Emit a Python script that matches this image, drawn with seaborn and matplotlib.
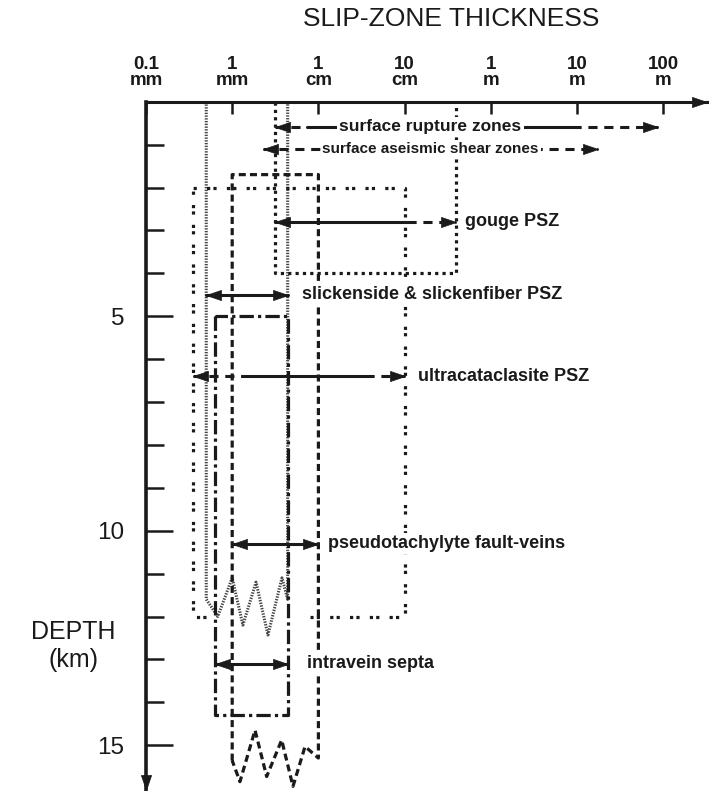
import numpy as np
import matplotlib
matplotlib.use("Agg")
import matplotlib.pyplot as plt
import seaborn as sns

# ---------------- data ----------------
tick_mm = [0.1, 1, 10, 100, 1000, 10000, 100000]
tick_labels = ["0.1\nmm", "1\nmm", "1\ncm", "10\ncm", "1\nm", "10\nm", "100\nm"]
depth_major = [5, 10, 15]
depth_minor = [1, 2, 3, 4, 6, 7, 8, 9, 11, 12, 13, 14]

zone_names = ["surface rupture zones", "surface aseismic shear zones", "gouge PSZ",
              "slickenside & slickenfiber PSZ", "ultracataclasite PSZ",
              "pseudotachylyte fault-veins", "intravein septa"]
zone_lo_mm = [3.1, 2.3, 3.1, 0.5, 0.35, 1.0, 0.63]
zone_hi_mm = [87000, 17500, 400, 4.4, 100, 10, 4.4]
zone_solid_lo_mm = [7.4, np.nan, 3.1, 0.5, 1.3, 1.0, 0.63]
zone_solid_hi_mm = [8750, np.nan, 107, 4.4, 35, 10, 4.4]
zone_depth_km = [0.58, 1.1, 2.8, 4.5, 6.4, 10.3, 13.1]
label_x_mm = [200, 200, 500, 6.5, 143, 12.9, 7.4]

gouge_box_mm = [3.1, 3.1, 400, 400]
gouge_box_km = [0, 4, 4, 0]
ultra_box_mm = [0.5, 0.35, 0.35, 100, 100, 8]
ultra_box_km = [12, 12, 2, 2, 12, 12]
pseudo_box_mm = [1, 1, 10, 10, 7.0, 5.07, 3.75, 2.51, 1.84, 1.23, 1]
pseudo_box_km = [15.36, 1.7, 1.7, 15.3, 15.03, 15.96, 14.88, 15.73, 14.65, 15.85, 15.36]
septa_box_mm = [0.63, 0.63, 4.4, 4.4, 0.63]
septa_box_km = [5, 14.3, 14.3, 5, 5]
slick_mm = [0.5, 0.5, 0.68, 1.0, 1.33, 1.89, 2.6, 3.78, 4.4, 4.4]
slick_km = [0, 11.6, 12.0, 11.1, 12.2, 11.2, 12.43, 11.1, 11.6, 0]

# ---------------- style ----------------
sns.set_theme(style="white")
plt.rcParams['font.family'] = ['Liberation Sans', 'DejaVu Sans']

W, H = 719, 791
fig = plt.figure(figsize=(W / 100, H / 100), dpi=100)
x0px, x1px = 146, 707
y0px, y1px = 101.7, 790
ax = fig.add_axes([x0px / W, 1 - y1px / H, (x1px - x0px) / W, (y1px - y0px) / H])
ax.set_xscale('log')
decade_px = 86.2
km_px = 42.9
xmin = tick_mm[0]
xmax = xmin * 10 ** ((x1px - x0px) / decade_px)
ymax = (y1px - y0px) / km_px

for s in ax.spines.values():
    s.set_visible(False)
ax.set_facecolor('none')

LW = 2.2


def outline(xs, ds, **kw):
    sns.lineplot(x=xs, y=ds, sort=False, estimator=None, ax=ax, legend=False, **kw)


# boxes
outline(slick_mm, slick_km, color='#444444', linewidth=2.2, linestyle=(0, (0.45, 0.45)))
outline(gouge_box_mm, gouge_box_km, color='k', linewidth=2.3, linestyle=(0, (1, 1.3)))
outline(ultra_box_mm, ultra_box_km, color='k', linewidth=2.3, linestyle=(0, (1, 1, 1, 3.2)))
outline(pseudo_box_mm, pseudo_box_km, color='k', linewidth=2.3, linestyle=(0, (2.2, 1.3)))
outline(septa_box_mm, septa_box_km, color='k', linewidth=2.3, linestyle=(0, (4.5, 1.3, 1, 1.3)))

RIGHT = [(0, 0), (-1, 0.34), (-1, -0.34), (0, 0)]
LEFT = [(0, 0), (1, 0.34), (1, -0.34), (0, 0)]
DOWN = [(0, 0), (-0.34, 1), (0.34, 1), (0, 0)]
HEAD = 21.6
DASH = (0, (3.0, 2.2))


def head(x, y, mk):
    ax.plot([x], [y], marker=mk, ms=HEAD, color='k', mew=0.5, ls='none', clip_on=False, zorder=6)


for i, name in enumerate(zone_names):
    lo, hi, d = zone_lo_mm[i], zone_hi_mm[i], zone_depth_km[i]
    slo, shi = zone_solid_lo_mm[i], zone_solid_hi_mm[i]
    if np.isnan(slo):
        ax.plot([lo, hi], [d, d], color='k', lw=LW, linestyle=DASH, zorder=5)
    else:
        ax.plot([slo, shi], [d, d], color='k', lw=LW, zorder=5)
        if lo < slo:
            ax.plot([lo, slo], [d, d], color='k', lw=LW, linestyle=DASH, zorder=5)
        if shi < hi:
            ax.plot([shi, hi], [d, d], color='k', lw=LW, linestyle=DASH, zorder=5)
    head(lo, d, LEFT)
    head(hi, d, RIGHT)
    box = dict(boxstyle='square,pad=0.12', fc='white', ec='none')
    if i < 2:
        ax.text(label_x_mm[i], d, name, ha='center', va='center', fontsize=12.5 if i == 0 else 11,
                fontweight='bold', color='k', zorder=7, bbox=box)
    else:
        ax.text(label_x_mm[i], d, name, ha='left', va='center', fontsize=13,
                fontweight='bold', color='k', zorder=7, bbox=box)

# axes arrows
ax.plot([xmin, xmax], [0, 0], color='k', lw=LW, clip_on=False, solid_capstyle='projecting', zorder=8)
ax.plot([xmin, xmin], [0, ymax], color='k', lw=2.6, clip_on=False, solid_capstyle='projecting', zorder=8)
head(xmax, 0, RIGHT)
head(xmin, ymax, DOWN)

ax.set_xlim(xmin, xmax)
ax.set_ylim(ymax, 0)
ax.set_xlabel('')
ax.set_ylabel('')

ax.xaxis.set_minor_locator(matplotlib.ticker.NullLocator())
ax.set_xticks(tick_mm)
ax.set_xticklabels(tick_labels)
ax.xaxis.tick_top()
ax.tick_params(axis='x', which='major', direction='in', length=8.6, width=1.8, color='k',
               pad=9, labelsize=13.5, top=True, bottom=False, labelcolor='k')
for lbl in ax.get_xticklabels():
    lbl.set_fontweight('bold')
    lbl.set_linespacing(0.95)

ax.set_yticks(depth_major)
ax.set_yticklabels([str(v) for v in depth_major])
ax.set_yticks(depth_minor, minor=True)
ax.tick_params(axis='y', which='major', direction='in', length=19.4, width=1.8, color='k',
               pad=15.8, labelsize=17.5, left=True, labelcolor='k')
ax.tick_params(axis='y', which='minor', direction='in', length=13, width=1.8, color='k', left=True)

fig.text(451 / W, 1 - 19 / H, "SLIP-ZONE THICKNESS", ha='center', va='center', fontsize=19, color='k')
fig.text(73 / W, 1 - 632 / H, "DEPTH", ha='center', va='center', fontsize=18, color='k')
fig.text(73 / W, 1 - 660 / H, "(km)", ha='center', va='center', fontsize=18, color='k')

fig.savefig("out.png", dpi=100, facecolor='white')
